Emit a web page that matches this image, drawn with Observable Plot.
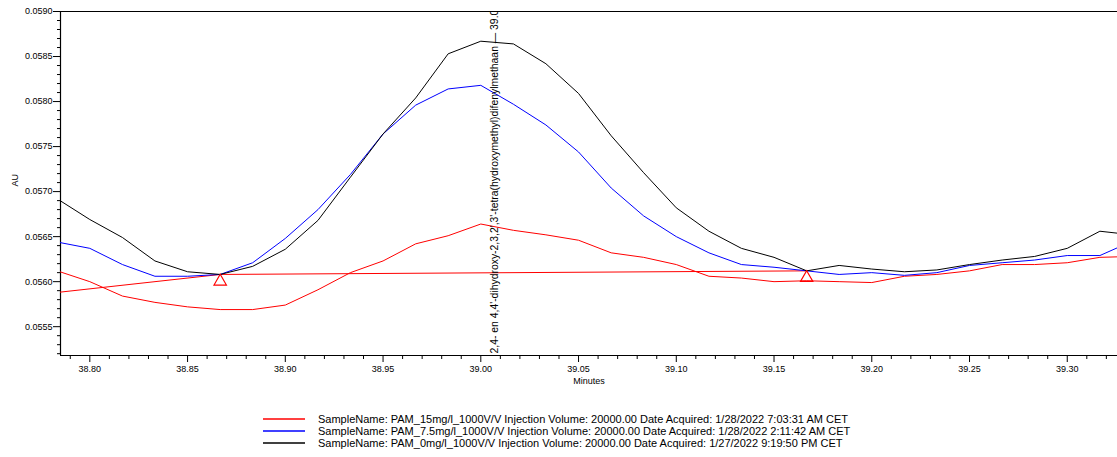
<!DOCTYPE html>
<html>
<head>
<meta charset="utf-8">
<script src="https://cdn.jsdelivr.net/npm/d3@7"></script>
<script src="https://cdn.jsdelivr.net/npm/@observablehq/plot@0.6"></script>
<style>
  html, body { margin: 0; padding: 0; background: #fff; }
  body { width: 1117px; height: 457px; overflow: hidden; font-family: "Liberation Sans", Arial, sans-serif; }
  #chart svg { display: block; }
  #legend { margin-top: 18px; padding-left: 263px; font-size: 11px; line-height: 12px; color: #000; }
  .row { white-space: nowrap; height: 12px; display: flex; align-items: center; }
  .row svg { display: block; flex: none; margin-right: 13px; }
</style>
</head>
<body>
<div id="chart"></div>
<div id="legend"></div>
<script>
const times = [38.7833, 38.8000, 38.8167, 38.8333, 38.8500, 38.8667, 38.8833, 38.9000, 38.9167, 38.9333,
  38.9500, 38.9667, 38.9833, 39.0000, 39.0167, 39.0333, 39.0500, 39.0667, 39.0833, 39.1000,
  39.1167, 39.1333, 39.1500, 39.1667, 39.1833, 39.2000, 39.2167, 39.2333, 39.2500, 39.2667,
  39.2833, 39.3000, 39.3167, 39.3333];

const pam15 = [0.05612, 0.05600, 0.05584, 0.05577, 0.05572, 0.05569, 0.05569, 0.05574, 0.05591, 0.05610,
  0.05623, 0.05642, 0.05651, 0.05664, 0.05657, 0.05652, 0.05646, 0.05632, 0.05627, 0.05619,
  0.05606, 0.05604, 0.05600, 0.05601, 0.05600, 0.05599, 0.05606, 0.05608, 0.05612, 0.05619,
  0.05619, 0.05621, 0.05627, 0.05628];

const pam7_5 = [0.05644, 0.05637, 0.05619, 0.05606, 0.05606, 0.05608, 0.05621, 0.05648, 0.05680, 0.05719,
  0.05764, 0.05796, 0.05814, 0.05818, 0.05797, 0.05774, 0.05744, 0.05704, 0.05673, 0.05650,
  0.05632, 0.05619, 0.05616, 0.05612, 0.05608, 0.05610, 0.05607, 0.05610, 0.05618, 0.05621,
  0.05624, 0.05629, 0.05629, 0.05645];

const pam0 = [0.05692, 0.05669, 0.05649, 0.05623, 0.05611, 0.05608, 0.05617, 0.05636, 0.05668, 0.05716,
  0.05764, 0.05804, 0.05853, 0.05867, 0.05864, 0.05842, 0.05809, 0.05762, 0.05721, 0.05682,
  0.05656, 0.05637, 0.05627, 0.05612, 0.05618, 0.05614, 0.05611, 0.05613, 0.05619, 0.05624,
  0.05628, 0.05637, 0.05656, 0.05652];

const baselineTimes = [38.7833, 38.8667, 39.1667];
const baselineValues = [0.05588, 0.05608, 0.05612];
const markerTimes = [38.8667, 39.1667];
const markerValues = [0.05608, 0.05612];

const peakTime = 39.007;
const peakLabel = "2,4- en 4,4'-dihydroxy-2,3,2',3'-tetra(hydroxymethyl)difenylmethaan \u2014 39.007";

const xMajor = [38.80, 38.85, 38.90, 38.95, 39.00, 39.05, 39.10, 39.15, 39.20, 39.25, 39.30];
const yMajor = [0.0555, 0.0560, 0.0565, 0.0570, 0.0575, 0.0580, 0.0585, 0.0590];

const seriesNames = [
  "SampleName: PAM_15mg/l_1000V/V Injection Volume: 20000.00 Date Acquired: 1/28/2022 7:03:31 AM CET",
  "SampleName: PAM_7.5mg/l_1000V/V Injection Volume: 20000.00 Date Acquired: 1/28/2022 2:11:42 AM CET",
  "SampleName: PAM_0mg/l_1000V/V Injection Volume: 20000.00 Date Acquired: 1/27/2022 9:19:50 PM CET"
];
const seriesColors = ["#ff0000", "#0000ff", "#000000"];
const seriesValues = [pam15, pam7_5, pam0];

const xDomain = [38.785, 39.3257];
const yDomain = [0.05518, 0.0590];

const xMinor = d3.range(0, 60).map(i => +(38.79 + i * 0.01).toFixed(2)).filter(v => v <= 39.325 && !xMajor.some(m => Math.abs(m - v) < 1e-6));
const yMinor = d3.range(0, 40).map(i => +(0.0552 + i * 0.0001).toFixed(4)).filter(v => v <= 0.0590 && !yMajor.some(m => Math.abs(m - v) < 1e-7));

const rows = [];
seriesValues.forEach((vals, s) => {
  vals.forEach((v, i) => rows.push({t: times[i], v, s}));
});
const baseline = baselineTimes.map((t, i) => ({t, v: baselineValues[i]}));
const markers = markerTimes.map((t, i) => ({t, v: markerValues[i]}));

const font = "'Liberation Sans', Arial, sans-serif";

const chart = Plot.plot({
  width: 1117,
  height: 395,
  marginTop: 11,
  marginBottom: 40,
  marginLeft: 60,
  marginRight: 0,
  style: {fontFamily: font, fontSize: "9px", color: "#000", background: "#fff"},
  x: {domain: xDomain},
  y: {domain: yDomain},
  marks: [
    Plot.axisY({ticks: yMinor, tickSize: 3, tickFormat: null, text: null, label: null, stroke: "#000"}),
    Plot.axisY({ticks: yMajor, tickSize: 7, tickPadding: 1, tickFormat: d3.format(".4f"), label: null, fontSize: 9, stroke: "#000"}),
    Plot.axisX({ticks: xMinor, tickSize: 4, tickFormat: null, text: null, label: null, stroke: "#000"}),
    Plot.axisX({ticks: xMajor, tickSize: 7, tickPadding: 3, tickFormat: d3.format(".2f"), label: null, fontSize: 9, stroke: "#000"}),
    Plot.ruleY([yDomain[1]], {stroke: "#000", strokeWidth: 1.2}),
    Plot.ruleY([yDomain[0]], {stroke: "#000", strokeWidth: 1.2}),
    Plot.ruleX([xDomain[0]], {stroke: "#000", strokeWidth: 1.2}),
    Plot.line(baseline, {x: "t", y: "v", stroke: "#ff0000", strokeWidth: 1, clip: true}),
    Plot.line(rows, {x: "t", y: "v", z: "s", stroke: d => seriesColors[d.s], strokeWidth: 1, clip: true}),
    Plot.dot(markers, {x: "t", y: "v", symbol: "triangle", r: 4.6, dy: 7, stroke: "#ff0000", strokeWidth: 1.2, fill: "none"}),
    Plot.text([peakLabel], {x: peakTime, y: yDomain[0], rotate: -90, textAnchor: "start", dy: -2, fontSize: 10.4, fill: "#000", clip: true}),
    Plot.text(["Minutes"], {frameAnchor: "bottom", dy: 28, fontSize: 9, fill: "#000"}),
    Plot.text(["AU"], {frameAnchor: "left", dx: -45, dy: 3, rotate: -90, fontSize: 9, fill: "#000"})
  ]
});
document.getElementById("chart").appendChild(chart);

const legend = d3.select("#legend");
seriesNames.forEach((name, i) => {
  const row = legend.append("div").attr("class", "row");
  const sw = row.append("svg").attr("width", 42).attr("height", 12);
  sw.append("line").attr("x1", 0).attr("x2", 42).attr("y1", 6).attr("y2", 6)
    .attr("stroke", seriesColors[i]).attr("stroke-width", 1.6);
  row.append("span").text(name);
});
</script>
</body>
</html>
